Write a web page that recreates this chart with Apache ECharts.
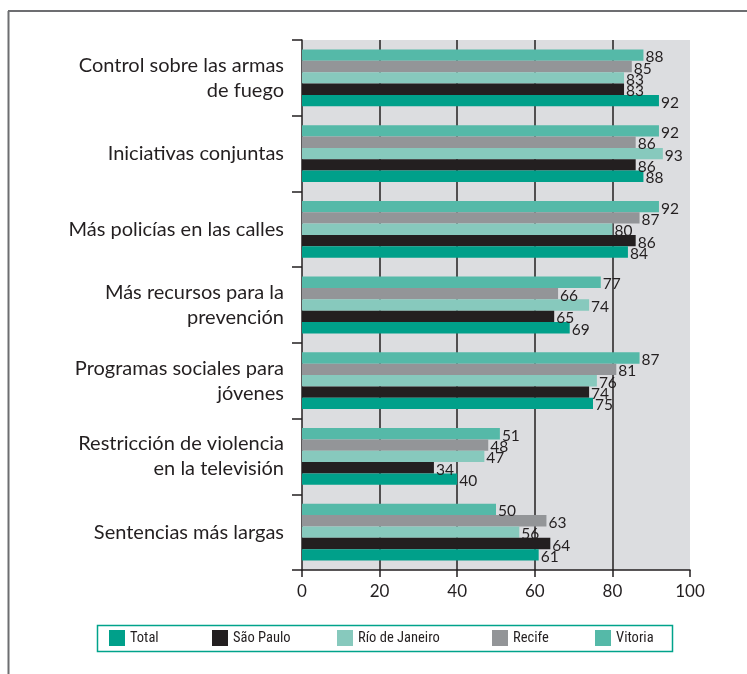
<!DOCTYPE html>
<html><head><meta charset="utf-8">
<script src="https://cdn.jsdelivr.net/npm/echarts@6/dist/echarts.min.js"></script>
<style>html,body{margin:0;padding:0;background:#fff}#c{width:747px;height:674px}</style>
</head><body><div id="c"></div>
<script>
const categories = ["Control sobre las armas\nde fuego","Iniciativas conjuntas","Más policías en las calles","Más recursos para la\nprevención","Programas sociales para\njóvenes","Restricción de violencia\nen la televisión","Sentencias más largas"];
const seriesNames = ["Total","São Paulo","Río de Janeiro","Recife","Vitoria"];
const total     = [92,88,84,69,75,40,61];
const saoPaulo  = [83,86,86,65,74,34,64];
const rio       = [83,93,80,74,76,47,56];
const recife    = [85,86,87,66,81,48,63];
const vitoria   = [88,92,92,77,87,51,50];
const xTicks = [0,20,40,60,80,100];

const colors = ['#00a08a','#231f20','#87c9bd','#939598','#55b9a8'];
const data = [total, saoPaulo, rio, recife, vitoria];
const chart = echarts.init(document.getElementById('c'), null, {renderer:'canvas'});
const legendLeft = [109, 212, 337, 492, 595];
const FONT = 'Lato, "Open Sans", sans-serif';
const NARROW = '"Liberation Sans Narrow", "Roboto Condensed", "Liberation Sans", sans-serif';

const order = [4,3,2,1,0];
const series = order.map(i=>({
  name:seriesNames[i], type:'bar', data:data[i], barGap:'0%', barCategoryGap:'25%',
  itemStyle:{color:colors[i]},
  label:{show:true, position:'right', distance:2, offset:[0,2], color:'#231f20', fontFamily:FONT, fontSize:15.5},
  animation:false
}));

chart.setOption({
  animation:false,
  color: order.map(i=>colors[i]),
  grid:{left:302, right:57, top:40, bottom:104, show:true, backgroundColor:'#dcdde0', borderWidth:0},
  xAxis:{type:'value', min:xTicks[0], max:xTicks[xTicks.length-1], interval:20,
    axisLine:{show:true, lineStyle:{color:'#231f20', width:1.5}},
    axisTick:{show:true, length:7, lineStyle:{color:'#231f20', width:1.5}},
    axisLabel:{color:'#231f20', fontFamily:FONT, fontSize:17, margin:13,
      formatter:v=> xTicks.includes(v) ? String(v) : ''},
    splitLine:{show:true, lineStyle:{color:['none','#231f20','#231f20','#231f20','#231f20','none'], width:1.5}}
  },
  yAxis:{type:'category', data:categories, inverse:true,
    axisLine:{show:true, lineStyle:{color:'#231f20', width:1.5}},
    axisTick:{show:true, length:10, lineStyle:{color:'#231f20', width:1.5}},
    axisLabel:{color:'#231f20', fontFamily:FONT, fontSize:20, margin:18, lineHeight:25, align:'right'}
  },
  legend: seriesNames.map((n,i)=>({
    data:[n], left:legendLeft[i], top:630, padding:0, itemWidth:16, itemHeight:16, itemGap:0,
    icon:'rect', textStyle:{color:'#231f20', fontFamily:NARROW, fontSize:14.5}, selectedMode:false
  })),
  graphic:[
    {type:'line', shape:{x1:8.5,y1:11,x2:8.5,y2:674}, style:{stroke:'#6d6e71', lineWidth:2}},
    {type:'line', shape:{x1:8,y1:11,x2:747,y2:11}, style:{stroke:'#6d6e71', lineWidth:2}},
    {type:'rect', shape:{x:97.5,y:625.5,width:575,height:26}, style:{fill:'none', stroke:'#00a38b', lineWidth:1.5}}
  ],
  series: series
});
</script></body></html>
